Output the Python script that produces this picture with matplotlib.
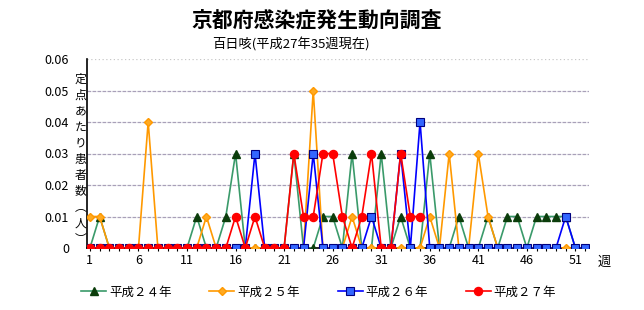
import matplotlib
matplotlib.use('Agg')
import matplotlib.pyplot as plt
from matplotlib.ticker import FixedLocator

plt.rcParams['font.family'] = ['Noto Sans CJK JP', 'DejaVu Sans']

weeks = list(range(1, 53))
h24 = [0, 0.01, 0, 0, 0, 0, 0, 0, 0, 0,
       0, 0.01, 0, 0, 0.01, 0.03, 0, 0, 0, 0,
       0, 0.03, 0, 0, 0.01, 0.01, 0, 0.03, 0, 0,
       0.03, 0, 0.01, 0, 0, 0.03, 0, 0, 0.01, 0,
       0, 0.01, 0, 0.01, 0.01, 0, 0.01, 0.01, 0.01, 0.01,
       0, 0]
h25 = [0.01, 0.01, 0, 0, 0, 0, 0.04, 0, 0, 0,
       0, 0, 0.01, 0, 0, 0, 0, 0, 0, 0,
       0, 0, 0, 0.05, 0, 0, 0, 0.01, 0, 0,
       0, 0, 0, 0, 0, 0.01, 0, 0.03, 0, 0,
       0.03, 0.01, 0, 0, 0, 0, 0, 0, 0, 0,
       0, 0]
h26 = [0, 0, 0, 0, 0, 0, 0, 0, 0, 0,
       0, 0, 0, 0, 0, 0, 0, 0.03, 0, 0,
       0, 0, 0, 0.03, 0, 0, 0, 0, 0, 0.01,
       0, 0, 0.03, 0, 0.04, 0, 0, 0, 0, 0,
       0, 0, 0, 0, 0, 0, 0, 0, 0, 0.01,
       0, 0]
h27 = [0, 0, 0, 0, 0, 0, 0, 0, 0, 0,
       0, 0, 0, 0, 0, 0.01, 0, 0.01, 0, 0,
       0, 0.03, 0.01, 0.01, 0.03, 0.03, 0.01, 0, 0.01, 0.03,
       0, 0, 0.03, 0.01, 0.01]

series_labels = ['平成２４年', '平成２５年', '平成２６年', '平成２７年']
xtick_labels = [1, 6, 11, 16, 21, 26, 31, 36, 41, 46, 51]
ytick_values = [0, 0.01, 0.02, 0.03, 0.04, 0.05, 0.06]
ytick_labels = ['0', '0.01', '0.02', '0.03', '0.04', '0.05', '0.06']

fig = plt.figure(figsize=(6.44, 3.10), dpi=100)
ax = fig.add_axes([87/644, 1-248/310, (589-87)/644, (248-59)/310])

l1, = ax.plot(weeks, h24, color='#3a9a6a', lw=1.2, marker='^', ms=5.5,
              mfc='#0b3d0b', mec='#0b3d0b', label=series_labels[0], zorder=3)
l2, = ax.plot(weeks, h25, color='#ff9900', lw=1.2, marker='D', ms=4,
              mfc='#ffaa22', mec='#ff9900', label=series_labels[1], zorder=4)
l3, = ax.plot(weeks, h26, color='#0000ff', lw=1.2, marker='s', ms=5.2,
              mfc='#3366ff', mec='#000080', mew=0.8, label=series_labels[2], zorder=5)
l4, = ax.plot(weeks[:len(h27)], h27, color='#ff0000', lw=1.2, marker='o', ms=5.8,
              mfc='#ff0000', mec='#ff0000', label=series_labels[3], zorder=6)

ax.set_xlim(0.7, 52.4)
ax.set_ylim(0, 0.06)
ax.xaxis.set_major_locator(FixedLocator(xtick_labels))
ax.set_xticklabels([str(v) for v in xtick_labels], fontsize=9)
ax.xaxis.set_minor_locator(FixedLocator(weeks))
ax.tick_params(axis='x', which='both', direction='inout', length=4, width=0.8, pad=2)
ax.set_yticks(ytick_values)
ax.set_yticklabels(ytick_labels, fontsize=9)
ax.tick_params(axis='y', direction='out', length=0, pad=13)

for v in ytick_values[1:-1]:
    ax.axhline(v, color='#a8a0b8', lw=0.9, ls=(0, (3, 1)), zorder=1)
ax.axhline(0.06, color='#c8c8c8', lw=0.9, ls=(0, (1, 2)), zorder=1)

for s in ['top', 'right']:
    ax.spines[s].set_visible(False)
ax.spines['left'].set_linewidth(1.2)
ax.spines['bottom'].set_linewidth(1.2)

fig.text(0.492, 0.935, '京都府感染症発生動向調査', ha='center', va='center',
         fontsize=15, fontweight='bold')
fig.text(0.452, 0.858, '百日咳(平成27年35週現在)', ha='center', va='center', fontsize=9.5)
fig.text(598/644, 1-262/310, '週', ha='left', va='center', fontsize=9.5)

ylabel = '定点あたり患者数︵人︶'
fig.text(80.5/644, 1-159/310, '\n'.join(ylabel), ha='center', va='center',
         fontsize=8.5, linespacing=1.3)

fig.legend(handles=[l1, l2, l3, l4], labels=series_labels, ncol=4, loc='center',
           bbox_to_anchor=(0.495, 0.058), frameon=False, fontsize=9,
           handlelength=2.0, handletextpad=0.25, columnspacing=3.0)

fig.savefig('out.png', dpi=100)
